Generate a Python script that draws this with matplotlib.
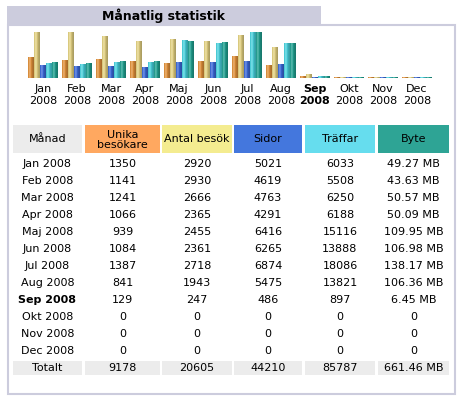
import numpy as np
import matplotlib
matplotlib.use("Agg")
import matplotlib.pyplot as plt
from matplotlib.patches import Rectangle
from matplotlib.colors import to_rgb

months = ['Jan', 'Feb', 'Mar', 'Apr', 'Maj', 'Jun', 'Jul', 'Aug', 'Sep', 'Okt', 'Nov', 'Dec']
year = '2008'
current = 'Sep'
unika = [1350, 1141, 1241, 1066, 939, 1084, 1387, 841, 129, 0, 0, 0]
besok = [2920, 2930, 2666, 2365, 2455, 2361, 2718, 1943, 247, 0, 0, 0]
sidor = [5021, 4619, 4763, 4291, 6416, 6265, 6874, 5475, 486, 0, 0, 0]
traffar = [6033, 5508, 6250, 6188, 15116, 13888, 18086, 13821, 897, 0, 0, 0]
byte_mb = [49.27, 43.63, 50.57, 50.09, 109.95, 106.98, 138.17, 106.36, 6.45, 0, 0, 0]
totals = ['9178', '20605', '44210', '85787', '661.46 MB']
headers = ['Månad', 'Unika\nbesökare', 'Antal besök', 'Sidor', 'Träffar', 'Byte']
head_colors = ['#ececec', '#ffa860', '#f4ec90', '#4477dd', '#66ddee', '#2ea495']
bar_colors = ['#e0903a', '#e2d080', '#3a68d8', '#48d0dc', '#20a090']

FONT = 'DejaVu Sans'
BORDER = '#ccccdd'

fig = plt.figure(figsize=(4.64, 4.12), dpi=100)
ax = fig.add_axes([0, 0, 1, 1])
ax.set_xlim(0, 464)
ax.set_ylim(412, 0)
ax.axis('off')

# frame + title tab
ax.add_patch(Rectangle((7, 6), 314, 18, facecolor=BORDER, edgecolor='none'))
ax.add_patch(Rectangle((8, 25), 447, 369, facecolor='white', edgecolor=BORDER, linewidth=1.5))
ax.text(164, 15.5, 'Månatlig statistik', ha='center', va='center', fontsize=9,
        fontweight='bold', family=FONT, color='#000000')

# ---- bar chart ----
def shade(color, n=24):
    rgb = np.array(to_rgb(color))
    t = np.linspace(0, 1, n)
    f = 0.35 * np.exp(-((t - 0.3) / 0.2) ** 2) - 0.3 * np.abs(t - 0.3) - 0.05
    out = np.empty((n, 3))
    for i, v in enumerate(f):
        out[i] = rgb + (1 - rgb) * v if v > 0 else rgb * (1 + v)
    return np.clip(out, 0, 1)

bax = fig.add_axes([26 / 464, 1 - 78 / 412, 408 / 464, 46 / 412])
bax.axis('off')
n = len(months)
x = np.arange(n)
w = 6 / 34
scale_max = [max(besok), max(besok), max(traffar), max(traffar), max(byte_mb)]
series = [unika, besok, sidor, traffar, byte_mb]
for k, (vals, smax, col) in enumerate(zip(series, scale_max, bar_colors)):
    h = np.maximum(np.array(vals) / smax, 1 / 46)
    bars = bax.bar(x + (k - 2) * w, h, width=w, color=col, linewidth=0)
    grad = shade(col)[None, :, :]
    for rect in bars:
        x0 = rect.get_x()
        im = bax.imshow(grad, extent=[x0, x0 + w, 0, rect.get_height()],
                        aspect='auto', zorder=3, interpolation='bilinear')
        im.set_clip_path(rect)
bax.set_xlim(-0.5, n - 0.5)
bax.set_ylim(0, 1)

for i, m in enumerate(months):
    cx = 43 + 34 * i
    wt = 'bold' if m == current else 'normal'
    ax.text(cx, 89, m, ha='center', va='center', fontsize=8, family=FONT, fontweight=wt)
    ax.text(cx, 101, year, ha='center', va='center', fontsize=8, family=FONT, fontweight=wt)

# ---- table ----
cols = [(13, 82), (85, 160), (162, 232), (234, 302), (305, 375), (378, 449)]
for (c0, c1), hdr, hc in zip(cols, headers, head_colors):
    ax.add_patch(Rectangle((c0, 125), c1 - c0, 28, facecolor=hc, edgecolor='none'))
    ax.text((c0 + c1) / 2, 139.5, hdr, ha='center', va='center', fontsize=8,
            family=FONT, linespacing=1.0)

def fmt_mb(v):
    return '0' if v == 0 else '%.2f MB' % v

for i, m in enumerate(months):
    y = 164 + 17 * i
    row = ['%s %s' % (m, year), str(unika[i]), str(besok[i]), str(sidor[i]),
           str(traffar[i]), fmt_mb(byte_mb[i])]
    wt = 'bold' if m == current else 'normal'
    for j, ((c0, c1), txt) in enumerate(zip(cols, row)):
        ax.text((c0 + c1) / 2, y, txt, ha='center', va='center', fontsize=8,
                family=FONT, fontweight=wt if j == 0 else 'normal')

ty = 164 + 17 * n
for (c0, c1), txt in zip(cols, ['Totalt'] + totals):
    ax.add_patch(Rectangle((c0, ty - 7), c1 - c0, 14, facecolor='#ececec', edgecolor='none'))
    ax.text((c0 + c1) / 2, ty, txt, ha='center', va='center', fontsize=8, family=FONT)

fig.savefig('out.png', dpi=100)
